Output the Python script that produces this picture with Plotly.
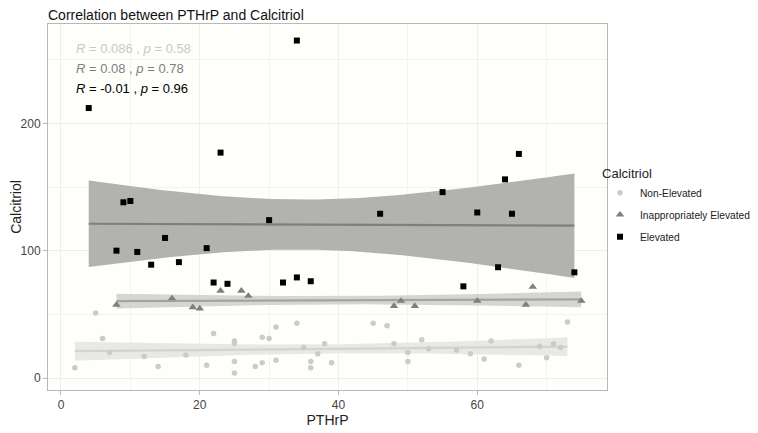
import numpy as np
import plotly.graph_objects as go

# PTHrP / Calcitriol values, per calcitriol group
non_x = [2, 5, 6, 7, 12, 14, 18, 21, 22, 25, 25, 25, 25, 28, 29, 29, 30, 31, 31,
         34, 35, 36, 36, 37, 38, 39, 45, 47, 48, 50, 50, 52, 53, 57, 59, 61, 62,
         66, 69, 70, 71, 72, 73]
non_y = [8, 51, 31, 20, 17, 9, 18, 10, 35, 29, 27, 13, 4, 9, 32, 12, 31, 40, 14,
         43, 24, 13, 8, 19, 27, 12, 43, 41, 27, 20, 13, 30, 23, 22, 19, 15, 29,
         10, 25, 16, 27, 24, 44]

inap_x = [8, 16, 19, 20, 23, 26, 27, 48, 49, 51, 60, 67, 68, 75]
inap_y = [57.5, 62.5, 55.5, 54.5, 68.5, 68.5, 64.5, 56.5, 60.5, 56.5, 60.5, 57.5, 71.5, 60.5]

elev_x = [4, 34, 23, 9, 10, 15, 8, 11, 13, 17, 21, 30, 22, 24, 32, 34, 36,
          46, 60, 65, 63, 74, 58, 55, 64, 66]
elev_y = [212, 265, 177, 138, 139, 110, 100, 99, 89, 91, 102, 124, 75, 74, 75, 79, 76,
          129, 130, 129, 87, 83, 72, 146, 156, 176]

# t critical values (95%) for n-2 degrees of freedom
t_non = 2.020
t_inap = 2.179
t_elev = 2.064

labels = ["Non-Elevated", "Inappropriately Elevated", "Elevated"]
stats_text = ["<i>R</i> = 0.086 , <i>p</i> = 0.58",
              "<i>R</i> = 0.08 , <i>p</i> = 0.78",
              "<i>R</i> = -0.01 , <i>p</i> = 0.96"]


# linear fit with 95% confidence band, like geom_smooth(method = "lm")
def lm_band(x, y, tcrit):
    x = np.array(x, dtype=float)
    y = np.array(y, dtype=float)
    n = len(x)
    b1, b0 = np.polyfit(x, y, 1)
    resid = y - (b0 + b1 * x)
    s = np.sqrt(np.sum(resid ** 2) / (n - 2))
    xm = x.mean()
    sxx = np.sum((x - xm) ** 2)
    xs = np.linspace(x.min(), x.max(), 80)
    yhat = b0 + b1 * xs
    se = s * np.sqrt(1.0 / n + (xs - xm) ** 2 / sxx)
    return xs, yhat, yhat - tcrit * se, yhat + tcrit * se


fig = go.Figure()

groups = [
    (non_x, non_y, t_non, "#E8E8E5", "#D3D3D3"),
    (inap_x, inap_y, t_inap, "#D5D5D2", "#A3A3A3"),
    (elev_x, elev_y, t_elev, "#B2B3AF", "#7F7F7F"),
]
for gx, gy, tc, band_col, line_col in groups:
    xs, yhat, lo, hi = lm_band(gx, gy, tc)
    fig.add_trace(go.Scatter(x=xs, y=lo, mode="lines", line=dict(width=0),
                             showlegend=False, hoverinfo="skip"))
    fig.add_trace(go.Scatter(x=xs, y=hi, mode="lines", line=dict(width=0),
                             fill="tonexty", fillcolor=band_col,
                             showlegend=False, hoverinfo="skip"))
    fig.add_trace(go.Scatter(x=xs, y=yhat, mode="lines",
                             line=dict(color=line_col, width=2.2),
                             showlegend=False, hoverinfo="skip"))

fig.add_trace(go.Scatter(x=non_x, y=non_y, mode="markers", name=labels[0], legendgroup="a",
                         marker=dict(symbol="circle", size=5.5, color="#CBCBCB")))
fig.add_trace(go.Scatter(x=inap_x, y=inap_y, mode="markers", name=labels[1], legendgroup="b",
                         marker=dict(symbol="triangle-up", size=7.5, color="#7F7F7F")))
fig.add_trace(go.Scatter(x=elev_x, y=elev_y, mode="markers", name=labels[2], legendgroup="c",
                         marker=dict(symbol="square", size=6, color="#000000")))

for txt, yy, col in zip(stats_text, [259, 243, 227.5], ["#C8C8C8", "#7F7F7F", "#000000"]):
    fig.add_annotation(x=1.9, y=yy, xref="x", yref="y", text=txt, showarrow=False,
                       xanchor="left", yanchor="middle",
                       font=dict(size=13, color=col))

axis_common = dict(
    showline=True, linecolor="#B8B8B8", linewidth=1, mirror=True,
    ticks="outside", ticklen=4, tickcolor="#B8B8B8",
    gridcolor="#EEEEEA", gridwidth=0.8, zeroline=False,
    tickfont=dict(size=12, color="#444444"), automargin=False,
)

# page body adds an 8px offset, so the figure is 8px smaller on each axis
fig.update_layout(
    width=750, height=425,
    margin=dict(l=40, r=151, t=16, b=43, autoexpand=False),
    paper_bgcolor="white",
    plot_bgcolor="#FEFEFB",
    font=dict(family="Liberation Sans, Arial, sans-serif", color="#222222"),
    title=dict(text="Correlation between PTHrP and Calcitriol", xref="paper", x=0,
               xanchor="left", yref="container", y=1, yanchor="top", pad=dict(t=2),
               font=dict(size=14, color="#111111")),
    xaxis=dict(range=[-1.87, 78.7], dtick=20, tick0=0,
               minor=dict(dtick=10, showgrid=True, gridcolor="#F3F3F0", gridwidth=0.6),
               title=dict(text="PTHrP", font=dict(size=14, color="#222222"), standoff=2),
               **axis_common),
    yaxis=dict(range=[-9.4, 278], dtick=100, tick0=0,
               minor=dict(dtick=50, showgrid=True, gridcolor="#F3F3F0", gridwidth=0.6),
               title=dict(text="Calcitriol", font=dict(size=14, color="#222222"), standoff=0),
               **axis_common),
    legend=dict(title=dict(text="Calcitriol", font=dict(size=13, color="#222222")),
                x=0.9875, xanchor="left", y=0.625, yanchor="top", traceorder="grouped",
                bgcolor="rgba(0,0,0,0)", font=dict(size=10.2, color="#222222"),
                tracegroupgap=3),
)

fig.write_html("out.html")
